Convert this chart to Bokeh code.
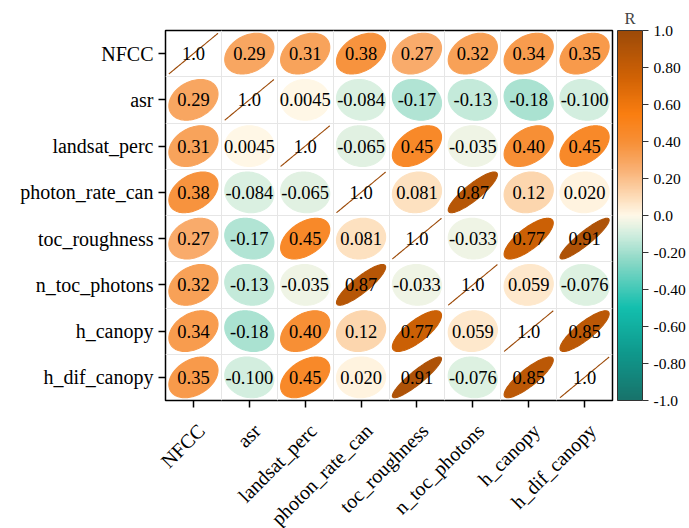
import numpy as np
from bokeh.plotting import figure
from bokeh.models import (ColumnDataSource, LinearColorMapper, ColorBar,
                          FixedTicker, Range1d, AllLabels)
from bokeh.core.properties import value
from bokeh.embed import file_html
from bokeh.resources import INLINE

variables = ["NFCC", "asr", "landsat_perc", "photon_rate_can", "toc_roughness",
             "n_toc_photons", "h_canopy", "h_dif_canopy"]

corr_labels = [
    ["1.0", "0.29", "0.31", "0.38", "0.27", "0.32", "0.34", "0.35"],
    ["0.29", "1.0", "0.0045", "-0.084", "-0.17", "-0.13", "-0.18", "-0.100"],
    ["0.31", "0.0045", "1.0", "-0.065", "0.45", "-0.035", "0.40", "0.45"],
    ["0.38", "-0.084", "-0.065", "1.0", "0.081", "0.87", "0.12", "0.020"],
    ["0.27", "-0.17", "0.45", "0.081", "1.0", "-0.033", "0.77", "0.91"],
    ["0.32", "-0.13", "-0.035", "0.87", "-0.033", "1.0", "0.059", "-0.076"],
    ["0.34", "-0.18", "0.40", "0.12", "0.77", "0.059", "1.0", "0.85"],
    ["0.35", "-0.100", "0.45", "0.020", "0.91", "-0.076", "0.85", "1.0"],
]

cbar_ticks = [1.0, 0.8, 0.6, 0.4, 0.2, 0.0, -0.2, -0.4, -0.6, -0.8, -1.0]
cbar_labels = ["1.0", "0.80", "0.60", "0.40", "0.20", "0.0", "-0.20", "-0.40",
               "-0.60", "-0.80", "-1.0"]

# colour scale anchors (value, colour)
anchor_vals = [-1.0, -0.75, -0.5, -0.25, -0.1, 0.0, 0.1, 0.25, 0.4, 0.55, 0.75, 1.0]
anchor_cols = ["#18736B", "#0F988C", "#13BFAE", "#8AD8C6", "#D2EEDF", "#FFF8E8",
               "#FDDCB8", "#F9B073", "#F78F36", "#FA7E10", "#D06205", "#9C4A08"]


def hex2rgb(h):
    h = h.lstrip("#")
    return np.array([int(h[i:i + 2], 16) for i in (0, 2, 4)], dtype=float)


rgb = np.array([hex2rgb(c) for c in anchor_cols])
grid_v = np.linspace(-1, 1, 256)
palette = []
for v in grid_v:
    c = [np.interp(v, anchor_vals, rgb[:, k]) for k in range(3)]
    palette.append("#%02x%02x%02x" % tuple(int(round(x)) for x in c))

mapper = LinearColorMapper(palette=palette, low=-1, high=1)

n = len(variables)
corr = np.array([[float(s) for s in row] for row in corr_labels])

# ellipse geometry (corrplot style)
s = 0.44
t = np.linspace(0, 2 * np.pi, 120)
xs, ys, rs, cx, cy, txt = [], [], [], [], [], []
for i in range(n):
    for j in range(n):
        r = corr[i, j]
        d = np.arccos(np.clip(r, -1, 1)) / 2
        x0 = j + 0.5
        y0 = n - 1 - i + 0.5
        xs.append(list(x0 + s * np.cos(t + d)))
        ys.append(list(y0 + s * np.cos(t - d)))
        rs.append(r)
        cx.append(x0)
        cy.append(y0)
        txt.append(corr_labels[i][j])

src_e = ColumnDataSource(dict(xs=xs, ys=ys, r=rs))
src_t = ColumnDataSource(dict(x=cx, y=cy, text=txt))

FONT = "Liberation Serif"

# layout numbers (pixels)
W = 689
LEFT, RIGHT, TOP, BOTTOM = 165, 77, 30, 10
FRAME_W, FRAME_H = W - LEFT - RIGHT, 370
MAIN_H = TOP + FRAME_H + BOTTOM
LAB_H = 528 - MAIN_H

p = figure(width=W, height=MAIN_H, x_range=(0, n), y_range=(0, n),
           output_backend="svg", toolbar_location=None,
           min_border_left=LEFT, min_border_top=TOP, min_border_bottom=BOTTOM,
           min_border_right=RIGHT)

p.title.text = "R"
p.title.align = "left"
p.title.offset = 459
p.title.text_font = FONT
p.title.text_font_size = "16.5px"
p.title.text_font_style = "normal"
p.title.standoff = 6

p.patches("xs", "ys", source=src_e,
          fill_color={"field": "r", "transform": mapper},
          line_color={"field": "r", "transform": mapper}, line_width=1.1)
p.text("x", "y", text="text", source=src_t, text_align="center",
       text_baseline="middle", text_font=value(FONT), text_font_size="18.5px",
       text_color="black")

centers = [k + 0.5 for k in range(n)]

# x axis: tick marks only (labels are drawn in the strip below)
p.xaxis.ticker = FixedTicker(ticks=centers)
p.xaxis.major_label_overrides = {c: "" for c in centers}
p.xaxis.major_label_text_font_size = "0px"
p.xaxis.major_label_standoff = 0

p.yaxis.ticker = FixedTicker(ticks=centers)
p.yaxis.major_label_overrides = {c: v for c, v in zip(centers, variables[::-1])}
p.yaxis.major_label_standoff = 5
p.yaxis.major_label_text_font_size = "20px"
for ax in (p.xaxis[0], p.yaxis[0]):
    ax.axis_line_color = None
    ax.major_tick_in = 0
    ax.major_tick_out = 7
    ax.major_tick_line_color = "black"
    ax.major_tick_line_width = 1.5
    ax.minor_tick_line_color = None
    ax.major_label_text_font = FONT
    ax.major_label_text_color = "black"

bounds = [k for k in range(1, n)]
p.xgrid.ticker = FixedTicker(ticks=bounds)
p.ygrid.ticker = FixedTicker(ticks=bounds)
p.xgrid.grid_line_color = "#E6E6E6"
p.ygrid.grid_line_color = "#E6E6E6"
p.outline_line_color = "black"
p.outline_line_width = 1.5

cbar = ColorBar(color_mapper=mapper,
                ticker=FixedTicker(ticks=cbar_ticks),
                major_label_overrides={k: v for k, v in zip(cbar_ticks, cbar_labels)},
                major_label_policy=AllLabels(),
                width=25, height=FRAME_H, padding=0, margin=0,
                location=(5, 0),
                bar_line_color="#333333", bar_line_width=1,
                major_tick_in=0, major_tick_out=6,
                major_tick_line_color="#333333",
                minor_tick_line_color=None,
                major_label_text_font=FONT,
                major_label_text_font_size="15.5px",
                major_label_text_color="black",
                label_standoff=5)
p.add_layout(cbar, "right")

# strip below the matrix for the rotated x labels, aligned to the main frame
unit = FRAME_W / n
p2 = figure(width=W, height=LAB_H,
            x_range=Range1d(-LEFT / unit, (W - LEFT) / unit),
            y_range=Range1d(0, LAB_H),
            output_backend="svg", toolbar_location=None,
            min_border=0, x_axis_location=None, y_axis_location=None)
p2.grid.visible = False
p2.outline_line_color = None
xlab_src = ColumnDataSource(dict(x=centers, y=[LAB_H - 9] * n, text=variables))
p2.text("x", "y", text="text", source=xlab_src, angle=np.pi / 4,
        text_align="right", text_baseline="top", text_font=value(FONT),
        text_font_size="20px", text_color="black")

open("out.html", "w").write(file_html([p, p2], INLINE))
